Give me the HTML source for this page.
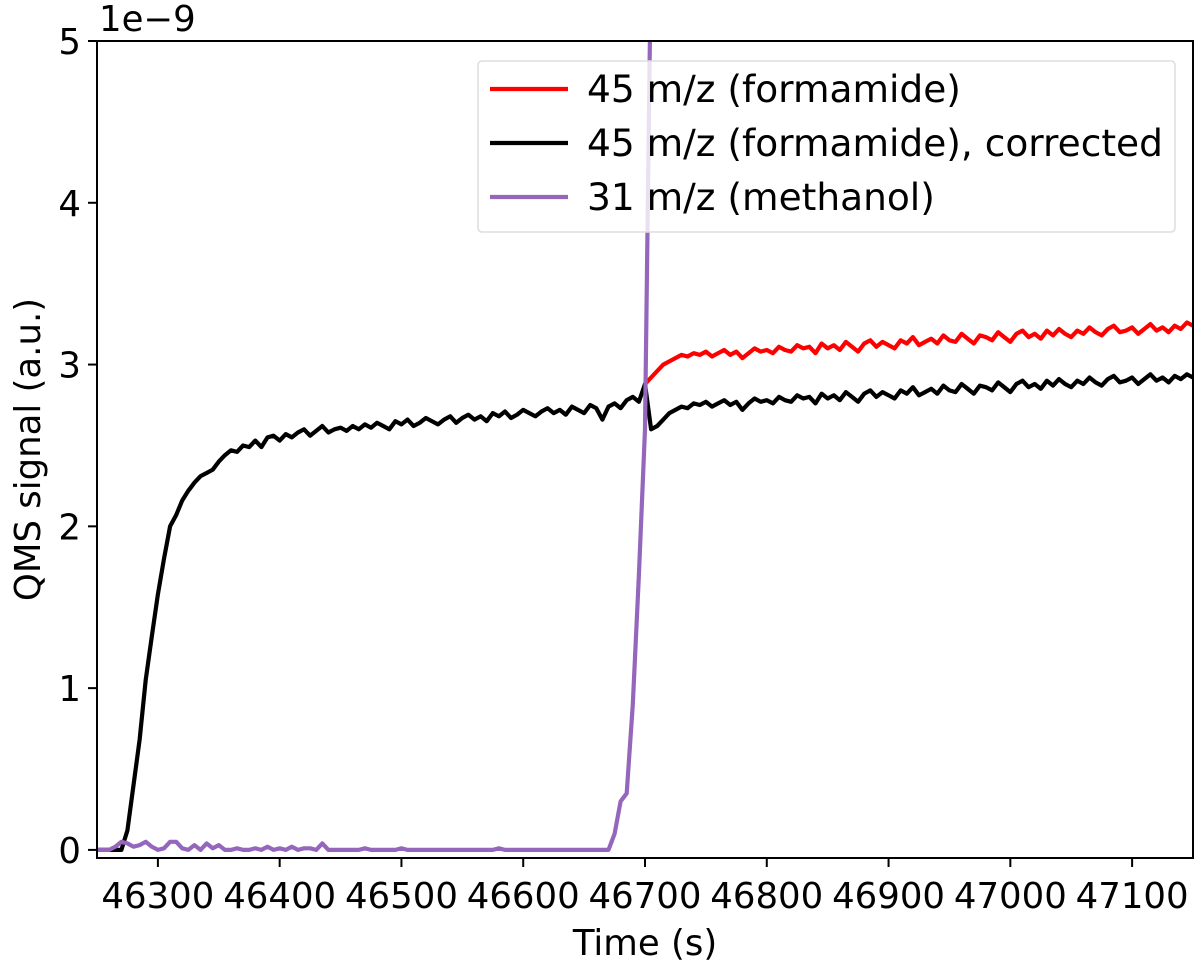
<!DOCTYPE html>
<html><head><meta charset="utf-8"><style>
body{margin:0;background:#fff;}
svg text{font-family:"DejaVu Sans","Liberation Sans",sans-serif;fill:#000;}
</style></head><body>
<svg id="chart" width="1200" height="966" viewBox="0 0 1200 966" xmlns="http://www.w3.org/2000/svg">
<defs><clipPath id="plotclip"><rect x="97" y="41" width="1096" height="817"/></clipPath></defs>
<g id="series" clip-path="url(#plotclip)"></g>
<g id="axes"></g>
</svg>
<script>
const blackValues=[0,0,0,0,
0.0,0.12,0.4,0.68,1.05,1.32,1.58,1.8,2.0,2.07,2.16,2.22,2.27,2.31,2.33,2.35,2.4,2.44,2.47,2.46,2.5,2.49,2.53,2.49,2.55,2.56,2.53,
2.57,2.55,2.58,2.6,2.56,2.59,2.62,2.58,2.6,2.61,
2.59,2.62,2.6,2.63,2.61,2.64,2.62,2.6,2.65,2.63,
2.66,2.62,2.64,2.67,2.65,2.63,2.66,2.68,2.64,2.67,
2.69,2.66,2.68,2.65,2.7,2.68,2.71,2.67,2.69,2.72,
2.7,2.68,2.71,2.73,2.7,2.72,2.69,2.74,2.72,2.7,
2.75,2.73,2.66,2.74,2.76,2.73,2.78,2.8,2.77,
2.88,
2.6,2.62,2.66,2.7,2.72,2.74,2.73,2.76,2.75,2.77,
2.74,2.76,2.78,2.75,2.77,2.72,2.76,2.79,2.77,2.78,
2.76,2.8,2.78,2.77,2.81,2.79,2.8,2.76,2.82,2.79,
2.81,2.78,2.83,2.8,2.77,2.82,2.84,2.8,2.83,2.81,
2.79,2.84,2.82,2.86,2.81,2.83,2.85,2.82,2.87,2.84,
2.83,2.88,2.85,2.82,2.87,2.86,2.84,2.89,2.86,2.83,
2.88,2.9,2.86,2.88,2.85,2.9,2.87,2.91,2.88,2.86,
2.9,2.88,2.92,2.89,2.87,2.91,2.93,2.89,2.9,2.92,
2.88,2.91,2.94,2.9,2.92,2.89,2.93,2.91,2.94,2.92];
const redValues=[2.88,
2.92,2.96,3.0,3.02,3.04,3.06,3.05,3.07,3.06,3.08,
3.05,3.07,3.09,3.06,3.08,3.04,3.07,3.1,3.08,3.09,
3.07,3.11,3.09,3.08,3.12,3.1,3.11,3.07,3.13,3.1,
3.12,3.09,3.14,3.11,3.08,3.13,3.15,3.11,3.14,3.12,
3.1,3.15,3.13,3.17,3.12,3.14,3.16,3.13,3.18,3.15,
3.14,3.19,3.16,3.13,3.18,3.17,3.15,3.2,3.17,3.14,
3.19,3.21,3.17,3.19,3.16,3.21,3.18,3.22,3.19,3.17,
3.21,3.19,3.23,3.2,3.18,3.22,3.24,3.2,3.21,3.23,
3.19,3.22,3.25,3.21,3.23,3.2,3.24,3.22,3.26,3.24];
const purpleValues=[0,0,0,0.02,0.05,0.04,0.02,0.03,0.05,0.02,
0,0.01,0.05,0.05,0.01,0,0.03,0,0.04,0.01,
0.03,0,0,0.01,0,0,0.01,0,0.02,0,
0.01,0,0.02,0,0.01,0.01,0,0.04,0,0,
0,0,0,0,0.01,0,0,0,0,0,
0.01,0,0,0,0,0,0,0,0,0,
0,0,0,0,0,0,0.01,0,0,0,
0,0,0,0,0,0,0,0,0,0,
0,0,0,0,0,0.1,0.3,0.35,0.9,1.7,
2.6,5.6];
const blackStart=46250, redStart=46700, purpleStart=46250, sampleStep=5;
const xTicks=[46300,46400,46500,46600,46700,46800,46900,47000,47100];
const yTicks=[0,1,2,3,4,5];
const legendLabels=["45 m/z (formamide)","45 m/z (formamide), corrected","31 m/z (methanol)"];

const X0=97,X1=1193,Y0=858,Y1=41,XMIN=46250,XMAX=47150,YMIN=-0.05,YMAX=5;
const FS='37.5', TFS='35.5';
const xs=v=>X0+(v-XMIN)/(XMAX-XMIN)*(X1-X0);
const ys=v=>Y0-(v-YMIN)/(YMAX-YMIN)*(Y0-Y1);
const NS="http://www.w3.org/2000/svg";
function mk(tag,parent){const e=document.createElementNS(NS,tag);parent.appendChild(e);return e;}
const series=document.getElementById('series'), axes=document.getElementById('axes');
function drawLine(vals,start,color,name){
  const p=mk('polyline',series);
  p.setAttribute('points',vals.map((v,i)=>xs(start+i*sampleStep).toFixed(1)+','+ys(v).toFixed(1)).join(' '));
  p.setAttribute('fill','none');p.setAttribute('stroke',color);p.setAttribute('stroke-width','4.2');p.setAttribute('stroke-linejoin','round');
  
  
}
drawLine(redValues,redStart,'#ff0000','series-45-formamide');
drawLine(blackValues,blackStart,'#000000','series-45-formamide-corrected');
drawLine(purpleValues,purpleStart,'#9467bd','series-31-methanol');

const frame=mk('rect',axes);
frame.setAttribute('x',X0);frame.setAttribute('y',Y1);frame.setAttribute('width',X1-X0);frame.setAttribute('height',Y0-Y1);
frame.setAttribute('fill','none');frame.setAttribute('stroke','#000');frame.setAttribute('stroke-width','2');


xTicks.forEach(t=>{
  const l=mk('line',axes);l.setAttribute('x1',xs(t));l.setAttribute('x2',xs(t));l.setAttribute('y1',Y0);l.setAttribute('y2',Y0+9);l.setAttribute('stroke','#000');l.setAttribute('stroke-width','2');
  
  
  const tx=mk('text',axes);tx.setAttribute('x',xs(t));tx.setAttribute('y',908);tx.setAttribute('text-anchor','middle');tx.setAttribute('font-size',TFS);tx.textContent=t;
  
  
});
yTicks.forEach(t=>{
  const l=mk('line',axes);l.setAttribute('x1',X0-9);l.setAttribute('x2',X0);l.setAttribute('y1',ys(t));l.setAttribute('y2',ys(t));l.setAttribute('stroke','#000');l.setAttribute('stroke-width','2');
  
  
  const tx=mk('text',axes);tx.setAttribute('x',X0-16);tx.setAttribute('y',ys(t)+13);tx.setAttribute('text-anchor','end');tx.setAttribute('font-size',TFS);tx.textContent=t;
  
  
});
const off=mk('text',axes);off.setAttribute('x',99);off.setAttribute('y',31);off.setAttribute('font-size',TFS);off.textContent='1e\u22129';


const xl=mk('text',axes);xl.setAttribute('x',(X0+X1)/2);xl.setAttribute('y',955);xl.setAttribute('text-anchor','middle');xl.setAttribute('font-size',TFS);xl.textContent='Time (s)';


const yl=mk('text',axes);yl.setAttribute('transform','translate(40,'+((Y0+Y1)/2)+') rotate(-90)');yl.setAttribute('text-anchor','middle');yl.setAttribute('font-size',TFS);yl.textContent='QMS signal (a.u.)';



const lg=mk('g',axes);


const box=mk('rect',lg);box.setAttribute('x',478);box.setAttribute('y',61);box.setAttribute('width',697);box.setAttribute('height',171);box.setAttribute('rx',4);
box.setAttribute('fill','#fff');box.setAttribute('fill-opacity','0.8');box.setAttribute('stroke','#ddd');box.setAttribute('stroke-width','1.5');


const legendColors=['#ff0000','#000000','#9467bd'];
legendLabels.forEach((lab,i)=>{
  const y=89+i*54;
  const l=mk('line',lg);l.setAttribute('x1',490);l.setAttribute('x2',568);l.setAttribute('y1',y);l.setAttribute('y2',y);l.setAttribute('stroke',legendColors[i]);l.setAttribute('stroke-width','4.2');
  
  
  const t=mk('text',lg);t.setAttribute('x',587);t.setAttribute('y',y+13);t.setAttribute('font-size',FS);t.textContent=lab;
  
  
});
</script>
</body></html>
